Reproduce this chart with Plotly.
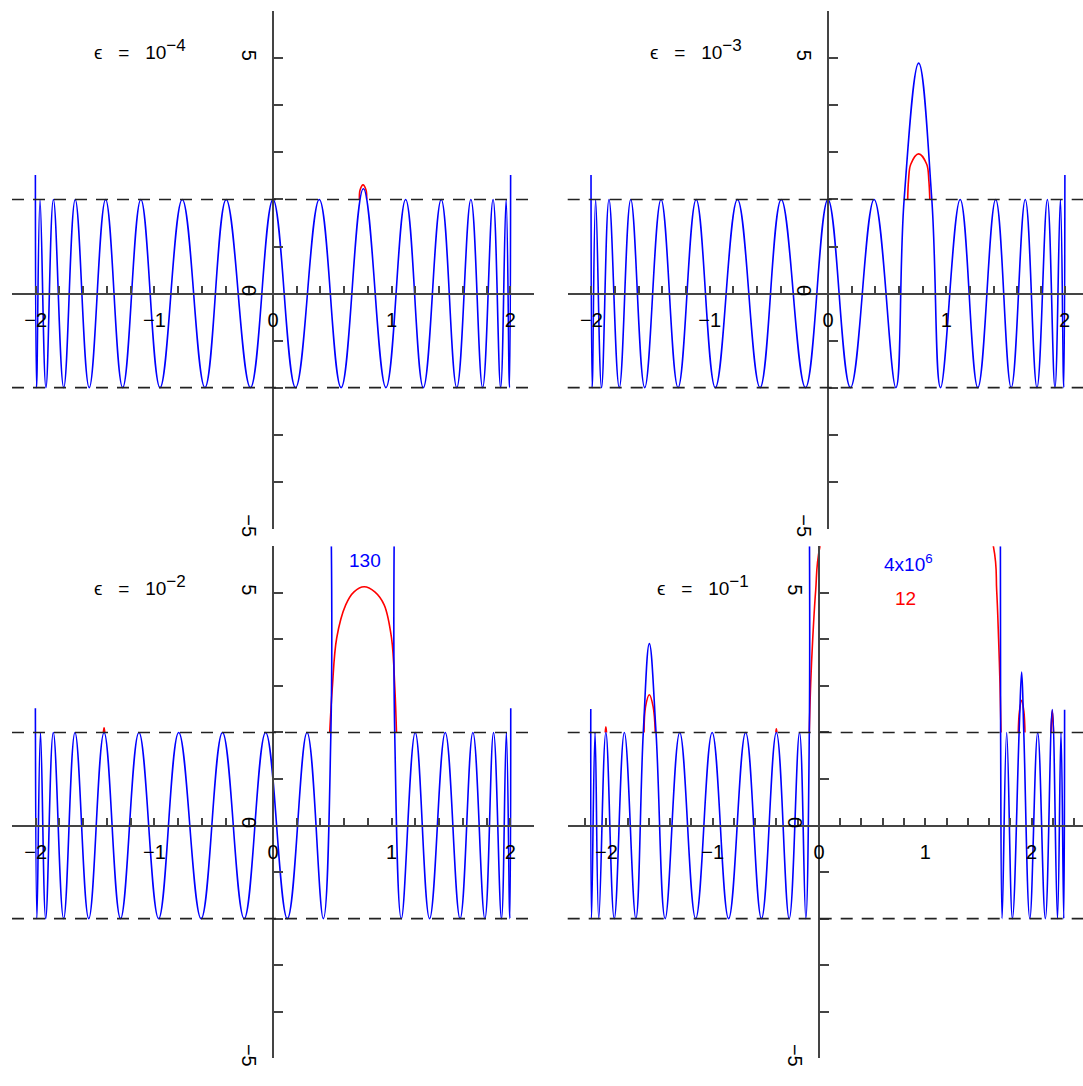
import plotly.graph_objects as go

W, H = 1083, 1086

# ---------------- data ----------------
# top-left panel (eps = 1e-4): extrema of the blue curve
TL_BLUE_X = [-2.003, -1.993, -1.964, -1.914, -1.851, -1.764, -1.667, -1.549, -1.411, -1.267,
             -1.114, -0.952, -0.765, -0.574, -0.395, -0.190, 0.000, 0.190, 0.390, 0.574,
             0.762, 0.952, 1.118, 1.267, 1.418, 1.549, 1.668, 1.767, 1.855, 1.919,
             1.965, 1.993, 2.003]
TL_BLUE_Y = [2.52, -2, 2, -2, 2, -2, 2, -2, 2, -2,
             2, -2, 2, -2, 2, -2, 2, -2, 2, -2,
             2.23, -2, 2, -2, 2, -2, 2, -2, 2, -2,
             2, -2, 2.52]
TL_RED_X = [0.728, 0.734, 0.759, 0.784, 0.790]
TL_RED_Y = [2.0, 2.2, 2.31, 2.2, 2.0]

# top-right panel (eps = 1e-3)
TR_BLUE_X = [-2.003, -1.993, -1.964, -1.914, -1.851, -1.764, -1.667, -1.549, -1.411, -1.267,
             -1.114, -0.952, -0.765, -0.574, -0.395, -0.190, 0.000, 0.190, 0.390, 0.574,
             0.644, 0.767, 0.878, 0.952, 1.118, 1.267, 1.418, 1.549, 1.668, 1.767,
             1.855, 1.919, 1.965, 1.993, 2.003]
TR_BLUE_Y = [2.52, -2, 2, -2, 2, -2, 2, -2, 2, -2,
             2, -2, 2, -2, 2, -2, 2, -2, 2, -2,
             2, 4.90, 2, -2, 2, -2, 2, -2, 2, -2,
             2, -2, 2, -2, 2.52]
TR_RED_X = [0.674, 0.681, 0.700, 0.767, 0.835, 0.853, 0.861]
TR_RED_Y = [2.0, 2.4, 2.75, 2.97, 2.75, 2.4, 2.0]

# bottom-left panel (eps = 1e-2)
BL_BLUE_X = [-2.003, -1.990, -1.960, -1.916, -1.852, -1.765, -1.669, -1.553, -1.424, -1.285,
             -1.130, -0.964, -0.795, -0.606, -0.426, -0.243, -0.062, 0.121, 0.287, 0.424,
             0.488, 0.492, None, 1.021, 1.026, 1.082, 1.199, 1.320, 1.452, 1.577,
             1.685, 1.786, 1.859, 1.926, 1.967, 1.996, 2.004]
BL_BLUE_Y = [2.52, -2, 2, -2, 2, -2, 2, -2, 2, -2,
             2, -2, 2, -2, 2, -2, 2, -2, 2, -2,
             2, 6, None, 6, 2, -2, 2, -2, 2, -2,
             2, -2, 2, -2, 2, -2, 2.52]
BL_RED_X = [-1.430, -1.424, -1.418, None,
            0.478, 0.500, 0.537, 0.613, 0.683, 0.768, 0.858, 0.937, 0.999, 1.027, 1.041]
BL_RED_Y = [2.0, 2.1, 2.0, None,
            2.0, 2.96, 4.03, 4.74, 5.02, 5.13, 5.02, 4.74, 4.03, 2.96, 2.0]

# bottom-right panel (eps = 1e-1)
BR_BLUE_X = [-2.147, -2.140, -2.107, -2.072, -2.005, -1.926, -1.831, -1.723, -1.653, -1.596,
             -1.533, -1.447, -1.310, -1.160, -1.005, -0.850, -0.690, -0.541, -0.401, -0.280,
             -0.183, -0.124, -0.091, -0.089, None, 1.707, 1.709, 1.723, 1.766, 1.820,
             1.883, 1.907, 1.927, 1.984, 2.058, 2.130, 2.195, 2.244, 2.277, 2.303, 2.311]
BR_BLUE_Y = [2.505, -2, 2, -2, 2, -2, 2, -2, 2, 3.91,
             2, -2, 2, -2, 2, -2, 2, -2, 2, -2,
             2, -2, 2, 6, None, 6, 2, -2, 2, -2,
             2, 3.30, 2, -2, 2, -2, 2.49, -2, 2, -2, 2.49]
BR_RED_X = [-2.011, -2.005, -1.999, None,
            -1.646, -1.632, -1.596, -1.560, -1.540, None,
            -0.406, -0.401, -0.396, None,
            -0.091, -0.078, -0.059, -0.031, 0.009, 0.80, 1.641, 1.672, 1.690, 1.703, 1.713, None,
            1.875, 1.886, 1.907, 1.928, 1.938, None,
            2.183, 2.195, 2.207]
BR_RED_Y = [2.0, 2.12, 2.0, None,
            2.0, 2.55, 2.81, 2.55, 2.0, None,
            2.0, 2.08, 2.0, None,
            2.0, 3.05, 4.0, 5.05, 6.0, 12.0, 6.0, 5.05, 4.0, 3.05, 2.0, None,
            2.0, 2.45, 2.69, 2.45, 2.0, None,
            2.0, 2.47, 2.0]

X_TICK_VALUES = [-2, -1, 0, 1, 2]
X_TICK_LABELS = ['\u22122', '\u22121', '0', '1', '2']
Y_TICK_VALUES = [-5, 0, 5]
Y_TICK_LABELS = ['\u22125', '0', '5']
BAND_LEVELS = [-2, 2]
EPS_EXPONENTS = ['\u22124', '\u22123', '\u22122', '\u22121']
PEAK_LABELS = ['130', '4x10<sup>6</sup>', '12']

BLUE = '#0000ff'
RED = '#ff0000'
AXC = '#444444'
FONT = 'Liberation Sans'
SP = '&nbsp;'


def eps_text(expo):
    return ('\u03f5' + SP * 3 + '=' + SP * 3 + '10'
            + '<sup><span style="font-size:17px">' + expo + '</span></sup>')


# ---------------- panel geometry (pixels) ----------------
panels = [
    dict(xpx=(12, 534), xr=(-2.2, 2.2), ypx=(11.4, 532.7),
         blue=(TL_BLUE_X, TL_BLUE_Y), red=(TL_RED_X, TL_RED_Y), lab=(140, 50)),
    dict(xpx=(567.7, 1083), xr=(-2.2, 2.156), ypx=(11.4, 532.7),
         blue=(TR_BLUE_X, TR_BLUE_Y), red=(TR_RED_X, TR_RED_Y), lab=(696, 50)),
    dict(xpx=(12, 534), xr=(-2.2, 2.2), ypx=(550.3, 1066.2),
         blue=(BL_BLUE_X, BL_BLUE_Y), red=(BL_RED_X, BL_RED_Y), lab=(140, 590)),
    dict(xpx=(567.7, 1083), xr=(-2.364, 2.484), ypx=(550.3, 1066.2),
         blue=(BR_BLUE_X, BR_BLUE_Y), red=(BR_RED_X, BR_RED_Y), lab=(703, 590)),
]
YR = (-5.0, 6.0)

fig = go.Figure()
layout = dict(width=W, height=H, margin=dict(l=0, r=0, t=0, b=0),
              paper_bgcolor='white', plot_bgcolor='white', showlegend=False,
              shapes=[], annotations=[])

for i, p in enumerate(panels):
    n = '' if i == 0 else str(i + 1)
    xd = (p['xpx'][0] / W, p['xpx'][1] / W)
    yd = (1 - p['ypx'][1] / H, 1 - p['ypx'][0] / H)
    x0, x1 = p['xr']
    ypos = yd[0] + (0 - YR[0]) / (YR[1] - YR[0]) * (yd[1] - yd[0])
    xpos = xd[0] + (0 - x0) / (x1 - x0) * (xd[1] - xd[0])

    fig.add_trace(go.Scatter(x=p['red'][0], y=p['red'][1], mode='lines',
                             line=dict(color=RED, width=1.6, shape='spline', simplify=False),
                             xaxis='x' + n, yaxis='y' + n, hoverinfo='skip'))
    fig.add_trace(go.Scatter(x=p['blue'][0], y=p['blue'][1], mode='lines',
                             line=dict(color=BLUE, width=1.6, shape='spline', smoothing=1.15,
                                       simplify=False),
                             xaxis='x' + n, yaxis='y' + n, hoverinfo='skip'))

    layout['xaxis' + n] = dict(
        domain=xd, range=[x0 - 1e-4, x1 + 1e-4], anchor='free', position=ypos,
        showline=True, linecolor=AXC, linewidth=2, showgrid=False, zeroline=False,
        ticks='inside', ticklen=7, tickwidth=1.5, tickcolor=AXC,
        tickmode='array', tickvals=X_TICK_VALUES, ticktext=X_TICK_LABELS,
        tickfont=dict(family=FONT, size=20, color='black'), ticklabelstandoff=8,
        minor=dict(dtick=0.2, tick0=0, ticks='inside', ticklen=7, tickwidth=1.5,
                   tickcolor=AXC, showgrid=False),
        fixedrange=True)
    layout['yaxis' + n] = dict(
        domain=yd, range=[YR[0] - 1e-3, YR[1] + 1e-3], anchor='free', position=xpos,
        showline=True, linecolor=AXC, linewidth=2, showgrid=False, zeroline=False,
        ticks='inside', ticklen=9, tickwidth=1.5, tickcolor=AXC,
        tickmode='array', tickvals=Y_TICK_VALUES, ticktext=Y_TICK_LABELS,
        tickangle=90, tickfont=dict(family=FONT, size=20, color='black'),
        ticklabelstandoff=6,
        minor=dict(dtick=1, tick0=0, ticks='inside', ticklen=9, tickwidth=1.5,
                   tickcolor=AXC, showgrid=False),
        fixedrange=True)

    xref = 'x' + n
    yref = 'y' + n
    for lv in BAND_LEVELS:
        layout['shapes'].append(dict(type='line', xref=xref + ' domain', yref=yref,
                                     x0=0, x1=1, y0=lv, y1=lv,
                                     line=dict(color='#222222', width=1.6, dash='12px,9px')))
    lx, ly = p['lab']
    layout['annotations'].append(dict(text=eps_text(EPS_EXPONENTS[i]), xref='paper', yref='paper',
                                      x=lx / W, y=1 - ly / H, showarrow=False,
                                      xanchor='center', yanchor='middle',
                                      font=dict(family=FONT, size=19, color='black')))

layout['annotations'].append(dict(text=PEAK_LABELS[0], xref='paper', yref='paper',
                                  x=364.7 / W, y=1 - 564.3 / H, showarrow=False,
                                  xanchor='center', yanchor='middle',
                                  font=dict(family=FONT, size=19, color=BLUE)))
layout['annotations'].append(dict(text=PEAK_LABELS[1], xref='paper', yref='paper',
                                  x=908 / W, y=1 - 567 / H, showarrow=False,
                                  xanchor='center', yanchor='middle',
                                  font=dict(family=FONT, size=19, color=BLUE)))
layout['annotations'].append(dict(text=PEAK_LABELS[2], xref='paper', yref='paper',
                                  x=905.5 / W, y=1 - 603 / H, showarrow=False,
                                  xanchor='center', yanchor='middle',
                                  font=dict(family=FONT, size=19, color=RED)))

fig.update_layout(**layout)
fig.write_html('out.html')
